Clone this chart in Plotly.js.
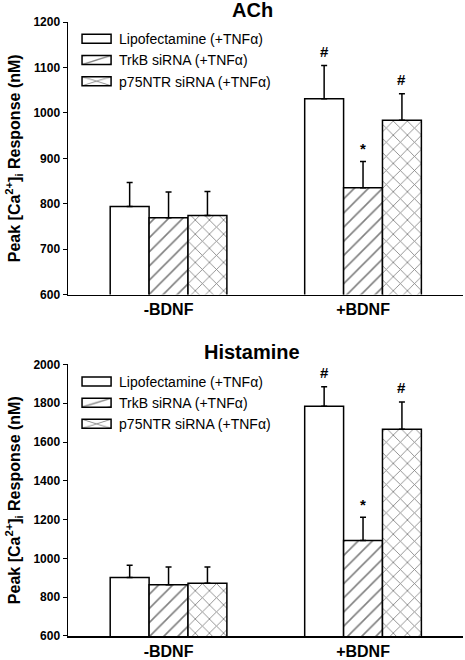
<!DOCTYPE html>
<html>
<head>
<meta charset="utf-8">
<script src="https://cdn.plot.ly/plotly-3.0.1.min.js"></script>
<style>html,body{margin:0;padding:0;background:#fff;}#chart{width:465px;height:660px;}</style>
</head>
<body>
<div id="chart"></div>
<script>
// ---- data ----
const categories = ['-BDNF', '+BDNF'];
const seriesNames = ['Lipofectamine (+TNF\u03b1)', 'TrkB siRNA (+TNF\u03b1)', 'p75NTR siRNA (+TNF\u03b1)'];

const achLipo = [794, 1031];
const achLipoErr = [53, 73];
const achTrkB = [769, 835];
const achTrkBErr = [57, 58];
const achP75 = [774, 984];
const achP75Err = [53, 58];
const achMarksLipo = ['', '#'];
const achMarksTrkB = ['', '*'];
const achMarksP75 = ['', '#'];

const histLipo = [901, 1784];
const histLipoErr = [64, 101];
const histTrkB = [864, 1092];
const histTrkBErr = [92, 120];
const histP75 = [872, 1666];
const histP75Err = [84, 140];
const histMarksLipo = ['', '#'];
const histMarksTrkB = ['', '*'];
const histMarksP75 = ['', '#'];

const achTicks = [600, 700, 800, 900, 1000, 1100, 1200];
const histTicks = [600, 800, 1000, 1200, 1400, 1600, 1800, 2000];

// ---- styling ----
const FONT = 'Liberation Sans, Arial, sans-serif';
const xs = categories.map((c, i) => i);
const patterns = [
  {shape: '', bgcolor: 'white'},
  {shape: '/', size: 10, solidity: 0.16, fgcolor: 'black', bgcolor: 'white', fillmode: 'overlay'},
  {shape: 'x', size: 10, solidity: 0.16, fgcolor: 'black', bgcolor: 'white', fillmode: 'overlay'}
];

function barTrace(vals, errs, idx, xa, ya, legendName, show) {
  return {
    type: 'bar', x: xs, y: vals, name: seriesNames[idx],
    xaxis: xa, yaxis: ya, legend: legendName, showlegend: show,
    marker: {color: 'white', line: {color: 'black', width: 1.5}, pattern: patterns[idx]},
    error_y: {type: 'data', symmetric: false, array: errs, arrayminus: vals.map(() => 0),
              color: 'black', thickness: 1.5, width: 3}
  };
}

const data = [
  barTrace(achLipo, achLipoErr, 0, 'x', 'y', 'legend', true),
  barTrace(achTrkB, achTrkBErr, 1, 'x', 'y', 'legend', true),
  barTrace(achP75, achP75Err, 2, 'x', 'y', 'legend', true),
  barTrace(histLipo, histLipoErr, 0, 'x2', 'y2', 'legend2', true),
  barTrace(histTrkB, histTrkBErr, 1, 'x2', 'y2', 'legend2', true),
  barTrace(histP75, histP75Err, 2, 'x2', 'y2', 'legend2', true)
];

const annotations = [];
function addMarks(valsList, errsList, marksList, xa, ya) {
  const offs = [-0.2, 0, 0.2];
  valsList.forEach((vals, j) => {
    vals.forEach((v, i) => {
      const m = marksList[j][i];
      if (!m) return;
      annotations.push({
        x: xs[i] + offs[j], y: v + errsList[j][i], xref: xa, yref: ya,
        text: m, showarrow: false, yanchor: 'bottom', yshift: m === '*' ? 2 : 4,
        font: {family: FONT, size: 15, color: 'black', weight: 'bold'}
      });
    });
  });
}
addMarks([achLipo, achTrkB, achP75], [achLipoErr, achTrkBErr, achP75Err],
         [achMarksLipo, achMarksTrkB, achMarksP75], 'x', 'y');
addMarks([histLipo, histTrkB, histP75], [histLipoErr, histTrkBErr, histP75Err],
         [histMarksLipo, histMarksTrkB, histMarksP75], 'x2', 'y2');

annotations.push({text: '<b>ACh</b>', xref: 'paper', yref: 'paper', x: 0.466, y: 1.0, yanchor: 'middle', yshift: 12,
  showarrow: false, font: {family: FONT, size: 20, color: 'black'}});
annotations.push({text: '<b>Histamine</b>', xref: 'paper', yref: 'paper', x: 0.466, y: 0.4423, yanchor: 'middle', yshift: 12,
  showarrow: false, font: {family: FONT, size: 20, color: 'black'}});

const yTitle = '<b>Peak [Ca<sup>2+</sup>]<sub>i</sub> Response (nM)</b>';

function xAxis(anchor) {
  return {
    anchor: anchor, range: [-0.517, 1.514], tickvals: xs, ticktext: categories,
    showline: true, linecolor: 'black', linewidth: 1.5, ticks: '', showgrid: false, zeroline: false,
    tickfont: {family: FONT, size: 16, color: 'black', weight: 'bold'}, fixedrange: true
  };
}
function yAxis(anchor, dom, range, ticks) {
  return {
    anchor: anchor, domain: dom, range: range, tickvals: ticks,
    showline: true, linecolor: 'black', linewidth: 1.5, ticks: 'outside', ticklen: 4, tickwidth: 1,
    tickcolor: 'black', showgrid: false, zeroline: false,
    tickfont: {family: FONT, size: 12, color: 'black', weight: 'bold'},
    title: {text: yTitle, standoff: 9, font: {family: FONT, size: 16, color: 'black'}},
    automargin: false
  };
}

const legendCommon = {
  x: 0.028, xanchor: 'left', yanchor: 'top', bgcolor: 'rgba(0,0,0,0)',
  font: {family: FONT, size: 14, color: 'black'}, traceorder: 'normal', itemwidth: 30
};

const layout = {
  width: 465, height: 660,
  margin: {l: 68, r: 2, t: 22, b: 24},
  paper_bgcolor: 'white', plot_bgcolor: 'white',
  barmode: 'group', bargap: 0.4, bargroupgap: 0,
  xaxis: xAxis('y'),
  yaxis: yAxis('x', [0.556, 1], [600, 1200], achTicks),
  xaxis2: xAxis('y2'),
  yaxis2: yAxis('x2', [0, 0.4423], [600, 2000], histTicks),
  legend: Object.assign({}, legendCommon, {y: 0.998}),
  legend2: Object.assign({}, legendCommon, {y: 0.44}),
  annotations: annotations
};

Plotly.newPlot('chart', data, layout, {displayModeBar: false, staticPlot: true}).then(function (gd) {
  // widen the legend swatches into the flat rectangles used by the original figure
  gd.querySelectorAll('.legendpoints path').forEach(function (p) {
    p.setAttribute('transform', 'translate(17.5,0) scale(2.42,0.75)');
    p.style.vectorEffect = 'non-scaling-stroke';
  });
});
</script>
</body>
</html>
